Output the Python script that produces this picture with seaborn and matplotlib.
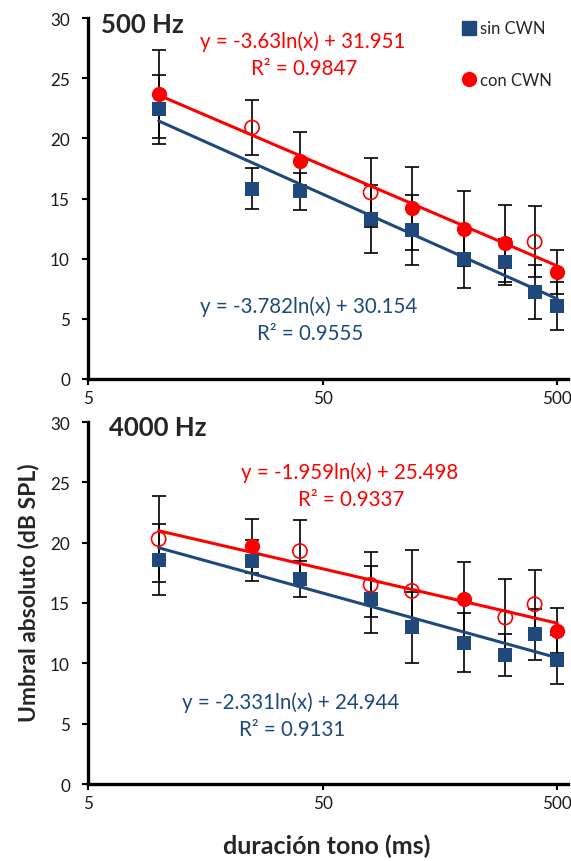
import numpy as np
import pandas as pd
import matplotlib
matplotlib.use("Agg")
import matplotlib.pyplot as plt
import seaborn as sns
from matplotlib.lines import Line2D

# ---------------- data ----------------
durations = [10, 25, 40, 80, 120, 200, 300, 400, 500]

sin_500 = [22.4, 15.8, 15.6, 13.3, 12.4, 10.0, 9.75, 7.2, 6.1]
sin_500_err = [2.9, 1.7, 1.55, 2.8, 2.9, 2.45, 1.9, 2.25, 2.0]
con_500 = [23.7, 20.9, 18.1, 15.5, 14.2, 12.5, 11.3, 11.4, 8.9]
con_500_err = [3.65, 2.3, 2.4, 2.85, 3.45, 3.1, 3.2, 2.95, 1.8]
con_500_filled = [True, False, True, False, True, True, True, False, True]

sin_4000 = [18.6, 18.5, 17.0, 15.3, 13.0, 11.7, 10.7, 12.4, 10.3]
sin_4000_err = [2.95, 1.7, 1.5, 2.8, 2.95, 2.45, 1.75, 2.1, 2.05]
con_4000 = [20.3, 19.7, 19.3, 16.5, 16.0, 15.3, 13.8, 14.9, 12.7]
con_4000_err = [3.6, 2.25, 2.6, 2.7, 3.4, 3.1, 3.2, 2.8, 1.85]
con_4000_filled = [False, True, False, False, False, True, False, False, True]

# trend-line coefficients (slope, intercept, R²) as printed on the chart
fit_500_sin = (-3.782, 30.154, 0.9555)
fit_500_con = (-3.63, 31.951, 0.9847)
fit_4000_sin = (-2.331, 24.944, 0.9131)
fit_4000_con = (-1.959, 25.498, 0.9337)

panel_titles = ["500 Hz", "4000 Hz"]
series_names = ["sin CWN", "con CWN"]
x_ticks = [5, 50, 500]
y_ticks = [0, 5, 10, 15, 20, 25, 30]

BLUE = "#1F497D"
RED = "#FF0000"

# ---------------- style ----------------
sns.set_style("ticks")
plt.rcParams["font.family"] = ["Lato", "DejaVu Sans"]

W, H = 571, 862
fig = plt.figure(figsize=(W / 100, H / 100), dpi=100)


def ax_rect(left, top, right, bottom):
    return [left / W, 1 - bottom / H, (right - left) / W, (bottom - top) / H]


ax_top = fig.add_axes(ax_rect(88, 19, 568, 380))
ax_bot = fig.add_axes(ax_rect(88, 423, 568, 785))


def fmt_eq(a, b):
    sign = "+" if b >= 0 else "-"
    return f"y = {a:g}ln(x) {sign} {abs(b):.3f}"


def draw_panel(ax, sin_v, sin_e, con_v, con_e, con_f, fit_sin, fit_con):
    df = pd.DataFrame({
        "x": durations, "sin": sin_v, "sin_e": sin_e,
        "con": con_v, "con_e": con_e, "filled": con_f,
    })
    # error bars (behind markers)
    for col, ecol in (("con", "con_e"), ("sin", "sin_e")):
        ax.errorbar(df["x"], df[col], yerr=df[ecol], fmt="none",
                    ecolor="black", elinewidth=1.2, capsize=5, capthick=1.2, zorder=1)
    # trend lines
    xs = np.geomspace(min(durations), max(durations), 100)
    for (a, b, _), col in ((fit_sin, BLUE), (fit_con, RED)):
        tdf = pd.DataFrame({"x": xs, "y": a * np.log(xs) + b})
        sns.lineplot(data=tdf, x="x", y="y", ax=ax, color=col, lw=2.2, zorder=2)
    # markers
    sns.scatterplot(data=df, x="x", y="sin", ax=ax, marker="s", s=105,
                    color=BLUE, edgecolor=BLUE, linewidth=0, zorder=3)
    sns.scatterplot(data=df[df["filled"]], x="x", y="con", ax=ax, marker="o",
                    s=120, color=RED, edgecolor=RED, linewidth=0, zorder=3)
    sns.scatterplot(data=df[~df["filled"]], x="x", y="con", ax=ax, marker="o",
                    s=105, facecolor="none", edgecolor=RED, linewidth=1.2, zorder=3)

    ax.set_xscale("log")
    ax.set_xlim(5, 555)
    ax.set_ylim(0, 30)
    ax.set_xticks(x_ticks)
    ax.set_xticklabels([str(t) for t in x_ticks])
    ax.xaxis.set_minor_locator(matplotlib.ticker.NullLocator())
    ax.set_yticks(y_ticks)
    ax.set_xlabel("")
    ax.set_ylabel("")
    sns.despine(ax=ax)
    for s in ("left", "bottom"):
        ax.spines[s].set_linewidth(2.4)
        ax.spines[s].set_color("black")
    ax.tick_params(axis="both", direction="out", length=4, width=1.5,
                   color="black", labelsize=12.3, labelcolor="#1a1a1a")
    ax.tick_params(axis="y", pad=9)
    ax.tick_params(axis="x", pad=4)


draw_panel(ax_top, sin_500, sin_500_err, con_500, con_500_err, con_500_filled,
           fit_500_sin, fit_500_con)
draw_panel(ax_bot, sin_4000, sin_4000_err, con_4000, con_4000_err, con_4000_filled,
           fit_4000_sin, fit_4000_con)


def ftext(x, y, s, **kw):
    fig.text(x / W, 1 - y / H, s, **kw)


EQ = 14.8
# panel titles
ftext(101, 33, panel_titles[0], fontsize=18.5, fontweight="bold", ha="left", va="baseline")
ftext(109, 436, panel_titles[1], fontsize=18.5, fontweight="bold", ha="left", va="baseline")

# equations
for (cx, by), fit, col in (((303, 48), fit_500_con, RED), ((309, 313), fit_500_sin, BLUE),
                           ((350, 479), fit_4000_con, RED), ((291, 709), fit_4000_sin, BLUE)):
    a, b, r2 = fit
    ftext(cx, by, fmt_eq(a, b), fontsize=EQ, color=col, ha="center", va="baseline")
    ftext(cx + 1, by + 27, f"R² = {r2:.4f}", fontsize=EQ, color=col, ha="center", va="baseline")

# legend
handles = [
    Line2D([], [], marker="s", ls="none", color=BLUE, markersize=9.5),
    Line2D([], [], marker="o", ls="none", color=RED, markersize=10),
]
ax_top.legend(handles, series_names, loc="upper left", bbox_to_anchor=(0.767, 1.012),
              frameon=False, fontsize=12, labelspacing=2.15, handlelength=0.8,
              handletextpad=0.25, borderaxespad=0)

# axis titles
ftext(29, 593, "Umbral absoluto (dB SPL)", fontsize=16.5, fontweight="bold",
      rotation=90, ha="center", va="center")
ftext(327, 846, "duración tono (ms)", fontsize=18, fontweight="bold",
      ha="center", va="center")

fig.savefig("out.png", dpi=100)
